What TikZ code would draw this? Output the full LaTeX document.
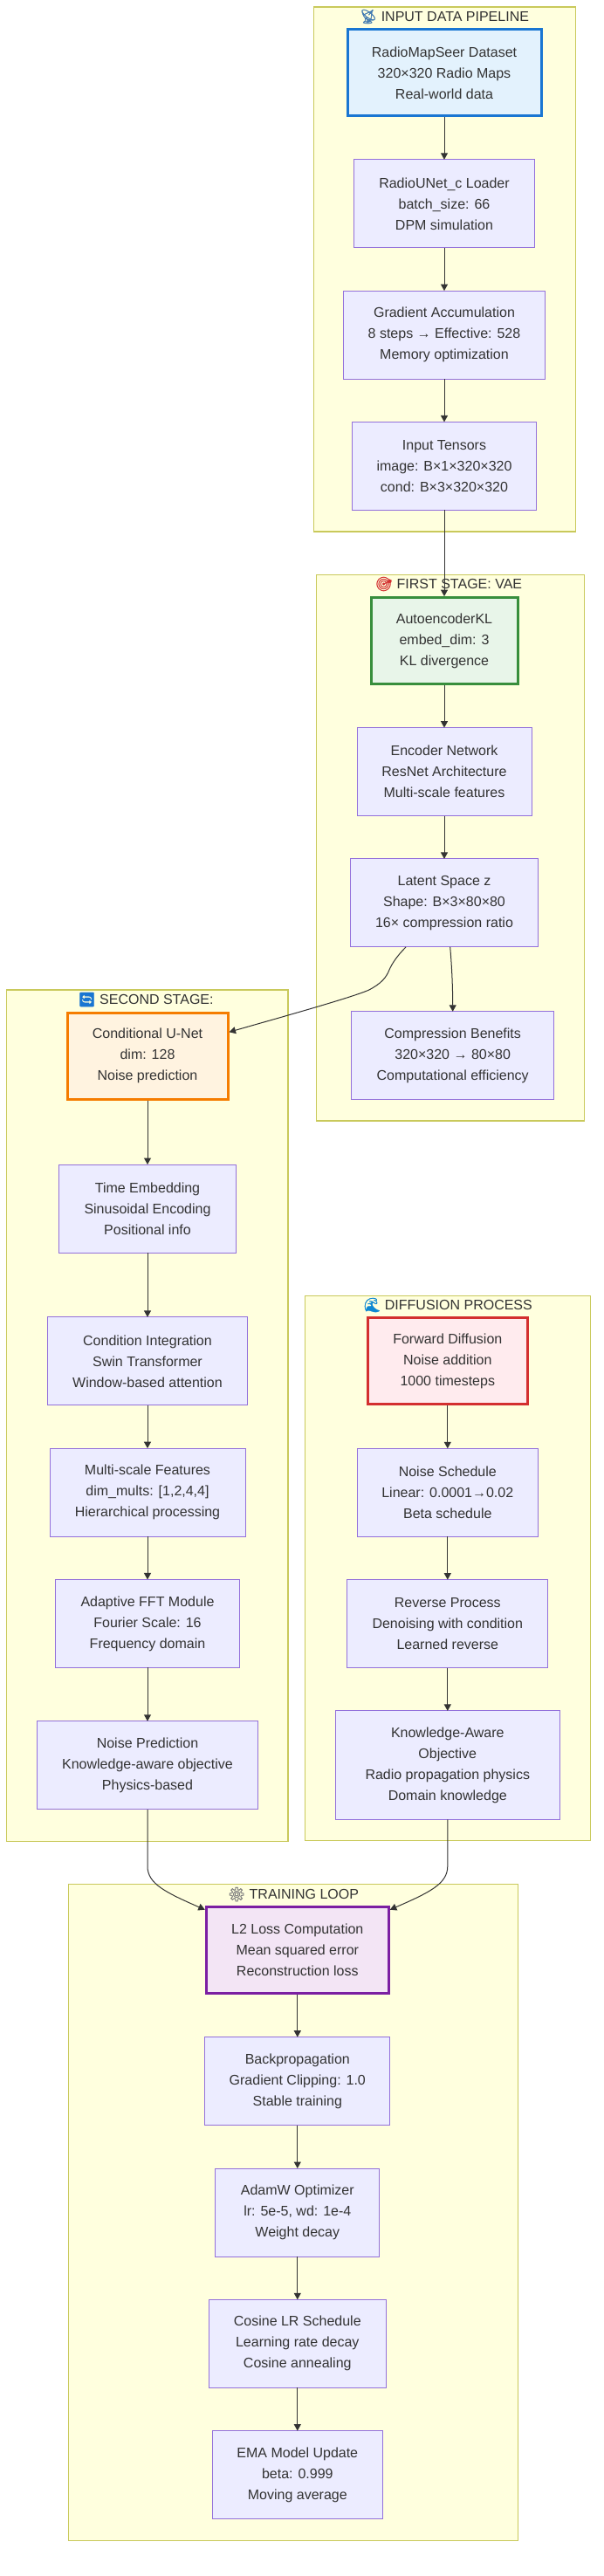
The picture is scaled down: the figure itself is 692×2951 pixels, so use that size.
\documentclass[tikz,border=0pt]{standalone}
\usepackage{fontspec}
\usepackage{xcolor}
\setmainfont{Liberation Sans}
\newfontfamily\emojifont[FakeBold=1.5]{Noto Emoji}
\usetikzlibrary{arrows.meta}
\usetikzlibrary{positioning}
\definecolor{textgray}{HTML}{333333}
\definecolor{clusterfill}{HTML}{FFFFDE}
\definecolor{clusterline}{HTML}{C9C95B}
\definecolor{procfill}{HTML}{ECECFF}
\definecolor{procline}{HTML}{9370DB}
\definecolor{data_line}{HTML}{1976D2}
\definecolor{data_fill}{HTML}{E3F2FD}
\definecolor{vae_line}{HTML}{388E3C}
\definecolor{vae_fill}{HTML}{E8F5E9}
\definecolor{unet_line}{HTML}{F57C00}
\definecolor{unet_fill}{HTML}{FFF3E0}
\definecolor{diff_line}{HTML}{D32F2F}
\definecolor{diff_fill}{HTML}{FFEBEE}
\definecolor{loss_line}{HTML}{7B1FA2}
\definecolor{loss_fill}{HTML}{F3E5F5}
\newcommand{\boxtext}{\fontsize{16}{24}\selectfont}
\tikzset{
    tnode/.style = {align=center, inner sep=0pt, outer sep=0pt, text=textgray, font=\boxtext},
    cluster_box/.style = {rectangle, outer sep=0pt, inner sep=0pt, draw=clusterline, fill=clusterfill, line width=1.2pt},
    title_text/.style = {tnode, anchor=center},
    proc_node/.style = {tnode, rectangle, draw=procline, fill=procfill, line width=1pt, minimum height=101pt},
    thick_node/.style = {proc_node, line width=3pt, minimum height=99pt, outer sep=1.5pt},
    data_node/.style = {thick_node, draw=data_line, fill=data_fill},
    vae_node/.style = {thick_node, draw=vae_line, fill=vae_fill},
    unet_node/.style = {thick_node, draw=unet_line, fill=unet_fill},
    diff_node/.style = {thick_node, draw=diff_line, fill=diff_fill},
    loss_node/.style = {thick_node, draw=loss_line, fill=loss_fill},
    flow/.style = {-{Triangle[width=8pt,length=7.5pt]}, draw=textgray, line width=1pt}
}
\begin{document}
\begin{tikzpicture}[x=1pt, y=1pt, node distance=49.3pt]
    \useasboundingbox (0,0) rectangle (692,-2951);

    \node [cluster_box, minimum width=300pt, minimum height=601pt] (input_cluster) at (509.2,-308.5) {};
    \node [cluster_box, minimum width=307pt, minimum height=625.5pt] (vae_cluster) at (515.8,-971.3) {};
    \node [cluster_box, minimum width=322.5pt, minimum height=975.5pt] (unet_cluster) at (168.7,-1621.7) {};
    \node [cluster_box, minimum width=327pt, minimum height=624pt] (diff_cluster) at (512.8,-1796.8) {};
    \node [cluster_box, minimum width=515.5pt, minimum height=752pt] (train_cluster) at (336,-2534.3) {};

    \node [title_text] (input_title) at (509,-19) {{\emojifont\textcolor{data_line!60!gray}{📡}} INPUT DATA PIPELINE};
    \node [title_text] (vae_title) at (514,-669) {{\emojifont\textcolor{diff_line}{🎯}} FIRST STAGE: VAE};
    \node [title_text] (unet_title) at (167,-1145) {{\emojifont\textcolor{data_line}{🔄}} SECOND STAGE:};
    \node [title_text] (diff_title) at (513,-1495) {{\emojifont\textcolor{cyan!70!blue}{🌊}} DIFFUSION PROCESS};
    \node [title_text] (train_title) at (336,-2170) {{\emojifont\textcolor{gray}{⚙}} TRAINING LOOP};

    \node [data_node, minimum width=222pt] (radio_data) at (509,-83.3) {RadioMapSeer Dataset\\320×320 Radio Maps\\Real-world data};
    \node [proc_node, minimum width=207pt, below=48.5pt of radio_data] (loader) {RadioUNet\_c Loader\\batch\_size: 66\\DPM simulation};
    \node [proc_node, minimum width=231pt, below=of loader] (grad_accum) {Gradient Accumulation\\8 steps → Effective: 528\\Memory optimization};
    \node [proc_node, minimum width=211pt, below=of grad_accum] (tensors) {Input Tensors\\image: B×1×320×320\\cond: B×3×320×320};

    \node [vae_node, minimum width=168pt] (autoenc) at (509,-734.1) {AutoencoderKL\\embed\_dim: 3\\KL divergence};
    \node [proc_node, minimum width=200pt, below=48.5pt of autoenc] (encoder) {Encoder Network\\ResNet Architecture\\Multi-scale features};
    \node [proc_node, minimum width=215pt, below=of encoder] (latent) {Latent Space z\\Shape: B×3×80×80\\16× compression ratio};
    \node [proc_node, minimum width=232pt, anchor=north] (benefits) at (518.7,-1158.8) {Compression Benefits\\320×320 → 80×80\\Computational efficiency};

    \node [unet_node, minimum width=184pt] (unet) at (169,-1209.7) {Conditional U-Net\\dim: 128\\Noise prediction};
    \node [proc_node, minimum width=203pt, below=73.3pt of unet] (time_embed) {Time Embedding\\Sinusoidal Encoding\\Positional info};
    \node [proc_node, minimum width=229pt, below=73.85pt of time_embed] (cond_int) {Condition Integration\\Swin Transformer\\Window-based attention};
    \node [proc_node, minimum width=224pt, below=of cond_int] (multi_scale) {Multi-scale Features\\dim\_mults: [1,2,4,4]\\Hierarchical processing};
    \node [proc_node, minimum width=211pt, below=of multi_scale] (fft) {Adaptive FFT Module\\Fourier Scale: 16\\Frequency domain};
    \node [proc_node, minimum width=253pt, below=61.3pt of fft] (noise_pred) {Noise Prediction\\Knowledge-aware objective\\Physics-based};

    \node [diff_node, minimum width=183pt] (forward) at (512.8,-1559.3) {Forward Diffusion\\Noise addition\\1000 timesteps};
    \node [proc_node, minimum width=207pt, below=49pt of forward] (schedule) {Noise Schedule\\Linear: 0.0001→0.02\\Beta schedule};
    \node [proc_node, minimum width=230pt, below=of schedule] (reverse) {Reverse Process\\Denoising with condition\\Learned reverse};
    \node [proc_node, minimum width=257pt, minimum height=124.5pt, below=of reverse] (knowledge) {Knowledge-Aware\\Objective\\Radio propagation physics\\Domain knowledge};

    \node [loss_node, minimum width=209pt] (l2_loss) at (340.8,-2234.2) {L2 Loss Computation\\Mean squared error\\Reconstruction loss};
    \node [proc_node, minimum width=212pt, below=48.5pt of l2_loss] (backprop) {Backpropagation\\Gradient Clipping: 1.0\\Stable training};
    \node [proc_node, minimum width=188pt, below=of backprop] (adamw) {AdamW Optimizer\\lr: 5e-5, wd: 1e-4\\Weight decay};
    \node [proc_node, minimum width=203pt, below=of adamw] (cosine) {Cosine LR Schedule\\Learning rate decay\\Cosine annealing};
    \node [proc_node, minimum width=195pt, below=of cosine] (ema) {EMA Model Update\\beta: 0.999\\Moving average};

    \draw [flow] (radio_data) -- (loader);
    \draw [flow] (loader) -- (grad_accum);
    \draw [flow] (grad_accum) -- (tensors);
    \draw [flow] (tensors) -- (autoenc);
    \draw [flow] (autoenc) -- (encoder);
    \draw [flow] (encoder) -- (latent);
    \draw [flow] ([xshift=6.7pt]latent.south) .. controls (517.5,-1105) and (518.7,-1130) .. (benefits.north);
    \draw [flow] ([xshift=-44pt]latent.south) .. controls (455,-1095) and (449,-1104) .. (446,-1111) .. controls (443,-1119) and (437,-1127) .. (421.7,-1134.5) .. controls (400,-1143.5) and (330,-1163) .. (unet.east |- 0,-1182.3);
    \draw [flow] (unet) -- (time_embed);
    \draw [flow] (time_embed) -- (cond_int);
    \draw [flow] (cond_int) -- (multi_scale);
    \draw [flow] (multi_scale) -- (fft);
    \draw [flow] (fft) -- (noise_pred);
    \draw [flow] (forward) -- (schedule);
    \draw [flow] (schedule) -- (reverse);
    \draw [flow] (reverse) -- (knowledge);
    \draw [flow] (l2_loss) -- (backprop);
    \draw [flow] (backprop) -- (adamw);
    \draw [flow] (adamw) -- (cosine);
    \draw [flow] (cosine) -- (ema);
    \draw [flow] (noise_pred.south) -- (169,-2138) .. controls (169,-2158) and (190,-2168) .. ([yshift=-4.5pt]l2_loss.north west);
    \draw [flow] (knowledge.south) -- (512.8,-2138) .. controls (512.8,-2158) and (492,-2168) .. ([yshift=-4.5pt]l2_loss.north east);
\end{tikzpicture}
\end{document}
